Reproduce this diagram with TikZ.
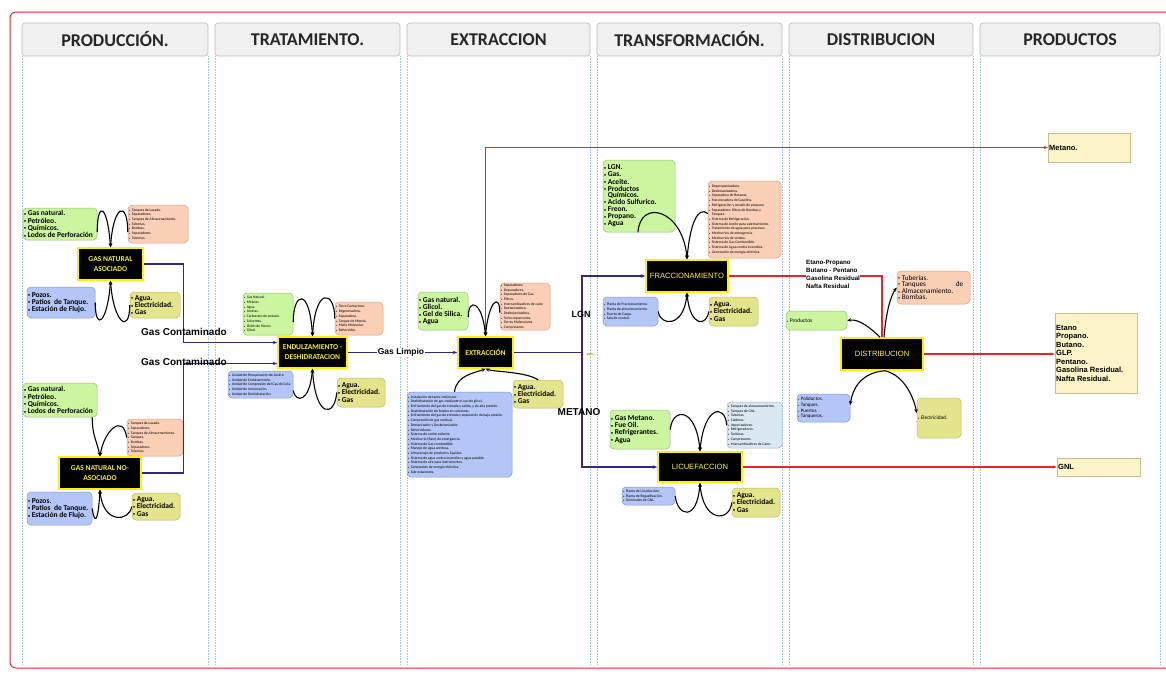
\documentclass[tikz,border=0pt]{standalone}
\usepackage{fontspec}
\setmainfont{Carlito}
\newfontfamily\arial{Liberation Sans}
\usetikzlibrary{arrows.meta}
\definecolor{gfill}{RGB}{204,245,160}
\definecolor{gdraw}{RGB}{150,190,120}
\definecolor{rfill}{RGB}{250,207,182}
\definecolor{rdraw}{RGB}{215,160,140}
\definecolor{bfill}{RGB}{180,198,248}
\definecolor{bdraw}{RGB}{130,150,210}
\definecolor{yfill}{RGB}{228,228,140}
\definecolor{ydraw}{RGB}{185,185,100}
\definecolor{lbfill}{RGB}{218,232,242}
\definecolor{lbdraw}{RGB}{160,180,200}
\definecolor{pfill}{RGB}{253,245,200}
\definecolor{pdraw}{RGB}{200,190,150}
\definecolor{purp}{RGB}{55,40,120}
\definecolor{redl}{RGB}{225,40,40}
\definecolor{kyel}{RGB}{245,235,40}
\definecolor{hdrf}{RGB}{240,240,240}
\definecolor{hdrd}{RGB}{185,185,185}
\definecolor{coldot}{RGB}{160,200,210}
% box: style, name, x, y, w, h, text  (text set in its own node, left aligned, never wrapped)
\newcommand\bx[7]{%
  \node[#1,minimum width=#5pt,minimum height=#6pt] (#2) at ({#3+#5/2},{#4+#6/2}) {};%
  \node[#1,draw=none,fill=none,anchor=west,align=left,inner xsep=1.2pt] (#2t) at (#2.west) {#7};}
\newcommand\bu{\makebox[3.6pt][l]{\fontsize{4}{4}\selectfont\raisebox{0.4pt}{•}}}
\newcommand\ti{\makebox[2.6pt][l]{\fontsize{2.6}{2.6}\selectfont •}}
\begin{document}
\begin{tikzpicture}[x=1pt,y=-1pt,
 every node/.style={inner xsep=1pt,inner ysep=1pt},
 hdr/.style={draw=hdrd,fill=hdrf,rounded corners=3pt,line width=0.6pt,font=\fontsize{18}{18}\selectfont\bfseries,text=black!85},
 gbox/.style={draw=gdraw,fill=gfill,rounded corners=4pt,line width=0.5pt},
 rbox/.style={draw=rdraw,fill=rfill,rounded corners=4pt,line width=0.5pt},
 bbox/.style={draw=bdraw,fill=bfill,rounded corners=4pt,line width=0.5pt},
 ybox/.style={draw=ydraw,fill=yfill,rounded corners=4pt,line width=0.5pt},
 lbbox/.style={draw=lbdraw,fill=lbfill,rounded corners=4pt,line width=0.5pt},
 pbox/.style={draw=pdraw,fill=pfill,line width=0.5pt,font=\arial\bfseries\fontsize{7.5}{8.5}\selectfont},
 kbox/.style={draw=yellow,fill=black,line width=1.5pt,align=center,text=kyel},
 kfont/.style={font=\fontsize{7.5}{10}\selectfont\bfseries},
 afont/.style={font=\arial\fontsize{7.6}{9}\selectfont,text=yellow!80!white},
 fb/.style={font=\fontsize{7.5}{7.2}\selectfont\bfseries},
 ft/.style={font=\fontsize{3.7}{4.7}\selectfont},
 arcl/.style={draw=black,line width=1.1pt,-{Stealth[length=4pt,width=3.5pt]}},
 purl/.style={draw=purp,line width=1.2pt,-{Stealth[length=4.5pt,width=3.5pt]}},
 redln/.style={draw=redl,line width=1.1pt},
 lab/.style={font=\arial\bfseries\fontsize{10}{10}\selectfont,inner sep=0pt},
]
\useasboundingbox (0,0) rectangle (1166,675);
\fill[white] (0,0) rectangle (1166,675);
\draw[redl,line width=1pt,rounded corners=6pt] (10,12) rectangle (1185,668);
% columns
\foreach \a in {22,208,215,400,407,590,597,782,789,973,980,1160}
  \draw[coldot,densely dotted,line width=0.6pt] (\a,56) -- (\a,665);
% headers
\node[hdr,minimum width=186pt,minimum height=33pt] (h1) at (115,39.5) {PRODUCCIÓN.};
\node[hdr,minimum width=185pt,minimum height=33pt] (h2) at (307.5,39.5) {TRATAMIENTO.};
\node[hdr,minimum width=183pt,minimum height=33pt] (h3) at (498.5,39.5) {EXTRACCION};
\node[hdr,minimum width=185pt,minimum height=33pt] (h4) at (689.5,39.5) {TRANSFORMACIÓN.};
\node[hdr,minimum width=184pt,minimum height=33pt] (h5) at (881,39.5) {DISTRIBUCION};
\node[hdr,minimum width=180pt,minimum height=33pt] (h6) at (1070,39.5) {PRODUCTOS};

% ---------- PRODUCCION ----------
\bx{gbox,fb}{G1}{23}{208}{74}{32}{\bu Gas natural.\\\bu Petróleo.\\\bu Químicos.\\\bu Lodos de Perforación}
\bx{rbox,ft}{R1}{128}{205}{60}{38}{\ti Tanques de Lavado.\\\ti Separadores.\\\ti Tanques de Almacenamiento.\\\ti Tuberías.\\\ti Bombas.\\\ti Separadores.\\\ti Tuberías.}
\node[kbox,kfont,minimum width=65pt,minimum height=32pt] (K1) at (110.5,264) {GAS NATURAL\\ASOCIADO};
\bx{bbox,fb}{B1}{27}{287}{68}{31}{\bu Pozos.\\\bu Patios\ \ de Tanque.\\\bu Estación de Flujo.}
\bx{ybox,fb}{Y1}{130}{292}{50}{26}{\bu Agua.\\\bu Electricidad.\\\bu Gas}

\bx{gbox,fb}{G1b}{23}{383}{74}{34}{\bu Gas natural.\\\bu Petróleo.\\\bu Químicos.\\\bu Lodos de Perforación}
\bx{rbox,ft}{R1b}{127}{419}{56}{37}{\ti Tanques de Lavado.\\\ti Separadores.\\\ti Tanques de Almacenamiento.\\\ti Tanques.\\\ti Bombas.\\\ti Separadores.\\\ti Tuberías.}
\node[kbox,kfont,minimum width=82pt,minimum height=32pt] (K1b) at (100,473) {GAS NATURAL NO-\\ASOCIADO};
\bx{bbox,fb}{B1b}{27}{492}{65}{33}{\bu Pozos.\\\bu Patios\ \ de Tanque.\\\bu Estación de Flujo.}
\bx{ybox,fb}{Y1b}{132}{493}{48}{27}{\bu Agua.\\\bu Electricidad.\\\bu Gas}

% ---------- TRATAMIENTO ----------
\bx{gbox,ft}{G2}{243}{293}{50}{42}{\ti Gas Natural.\\\ti Metano.\\\ti Agua.\\\ti Aminas.\\\ti Carbonato de potasio.\\\ti Solventes.\\\ti Óxido de Hierro.\\\ti Glicol.}
\bx{rbox,ft}{R2}{335}{302}{48}{33}{\ti Torre Contactora.\\\ti Regeneradora.\\\ti Separadora.\\\ti Tanque de Mezcla.\\\ti Malla Molecular.\\\ti Rehervidor.}
\node[kbox,kfont,minimum width=69pt,minimum height=31pt] (K2) at (312.5,352.5) {ENDULZAMIENTO -\\DESHIDRATACION};
\bx{bbox,ft}{B2}{228}{371}{65}{27}{\ti Unidad de Recuperación de Azufre.\\\ti Unidad de Endulzamiento.\\\ti Unidad de Compresión del Gas de Cola.\\\ti Unidad de Incineración.\\\ti Unidad de Deshidratación.}
\bx{ybox,fb}{Y2}{337}{378}{48}{29}{\bu Agua.\\\bu Electricidad.\\\bu Gas}

% ---------- EXTRACCION ----------
\bx{gbox,fb}{G3}{418}{292}{50}{38}{\bu Gas natural.\\\bu Glicol.\\\bu Gel de Silica.\\\bu Agua}
\bx{rbox,ft}{R3}{500}{283}{50}{47}{\ti Separadores.\\\ti Depuradores.\\\ti Separadores de Gas.\\\ti Filtros.\\\ti Intercambiadores de calor.\\\ti Deetanizadora.\\\ti Desbutanizadora.\\\ti Turbo expansores.\\\ti Torres Moleculares.\\\ti Compresores.}
\node[kbox,kfont,minimum width=55pt,minimum height=31pt] (K3) at (485.5,352.5) {EXTRACCIÓN};
\bx{ybox,fb}{Y3}{513}{380}{50}{28}{\bu Agua.\\\bu Electricidad.\\\bu Gas}
\bx{bbox,ft}{B3}{407}{392}{105}{85}{\ti Instalación de tamiz molecular.\\\ti Deshidratación de gas mediante el uso de glicol.\\\ti Enfriamiento del gas de entrada y salida, y de alta presión.\\\ti Deshidratación de fondos en columnas.\\\ti Enfriamiento del gas de entrada y separación de baja presión.\\\ti Compresión de gas residual.\\\ti Deetanizador y Desbutanizador.\\\ti Rehervidores.\\\ti Sistema de aceite caliente.\\\ti Mechurrio (flare) de emergencia.\\\ti Sistema de Gas combustible.\\\ti Manejo de agua aceitosa.\\\ti Almacenaje de productos líquidos.\\\ti Sistema de agua contra incendios y agua potable.\\\ti Sistema de aire para instrumentos.\\\ti Generación de energía eléctrica.\\\ti Sub-estaciones.}

% ---------- TRANSFORMACION ----------
\bx{gbox,fb}{G4}{603}{160}{72}{72}{\bu LGN.\\\bu Gas.\\\bu Aceite.\\\bu Productos\\[-1.5pt]\hspace*{3.6pt}Químicos.\\\bu Acido Sulfurico.\\\bu Freon.\\\bu Propano.\\\bu Agua}
\bx{rbox,ft}{R4}{708}{181}{73}{77}{\ti Despropanizadora.\\\ti Desbutanizadora.\\\ti Separadora de Butanos.\\\ti Fraccionadora de Gasolina.\\\ti Refrigeración y secado de propano.\\\ti Separadores, filtros de Bombas y\\\hspace*{2.6pt}Tanques.\\\ti Sistema de Refrigeración.\\\ti Sistema de Aceite para calentamiento.\\\ti Tratamiento de agua para procesos.\\\ti Mechurrios de emergencia.\\\ti Mechurrios de venteo.\\\ti Sistema de Gas Combustible.\\\ti Sistema de Agua contra incendios.\\\ti Generación de energía eléctrica.}
\node[kbox,afont,minimum width=82pt,minimum height=32pt] (K4) at (687,276) {FRACCIONAMIENTO};
\bx{bbox,ft}{B4}{603}{297}{55}{29}{\ti Planta de Fraccionamiento.\\\ti Planta de almacenamiento.\\\ti Puerto de Carga.\\\ti Sala de control.}
\bx{ybox,fb}{Y4}{709}{297}{49}{29}{\bu Agua.\\\bu Electricidad.\\\bu Gas}
\bx{gbox,fb}{G5}{610}{410}{60}{39}{\bu Gas Metano.\\\bu Fue Oil.\\\bu Refrigerantes.\\\bu Agua}
\bx{lbbox,ft}{L5}{727}{402}{55}{46}{\ti Tanques de almacenamiento.\\\ti Tanques de GNL.\\\ti Tuberías.\\\ti Calderas.\\\ti Vaporizadores.\\\ti Refrigeradores.\\\ti Turbinas.\\\ti Compresores.\\\ti Intercambiadores de Calor.}
\node[kbox,afont,minimum width=84pt,minimum height=30pt] (K5) at (700,467) {LICUEFACCION};
\bx{bbox,ft}{B5}{622}{487}{53}{18}{\ti Planta de Licuefacción.\\\ti Planta de Regasificación.\\\ti Terminales de GNL.}
\bx{ybox,fb}{Y5}{732}{488}{48}{29}{\bu Agua.\\\bu Electricidad.\\\bu Gas}

% ---------- DISTRIBUCION ----------
\bx{rbox,font=\fontsize{7.2}{6}\selectfont}{R6}{897}{271}{73}{33}{\bu Tuberías.\\\bu Tanques\hspace{30pt}de\\\bu Almacenamiento.\\\bu Bombas.}
\bx{gbox,font=\fontsize{5.5}{6}\selectfont}{G6}{786}{311}{61}{19}{\ti Productos}
\node[kbox,afont,minimum width=82pt,minimum height=32pt] (K6) at (882,354) {DISTRIBUCION};
\bx{bbox,font=\fontsize{5}{5.6}\selectfont}{B6}{797}{394}{53}{28}{\ti Poliductos.\\\ti Tanques.\\\ti Puertos.\\\ti Tanqueros.}
\bx{ybox,font=\fontsize{5.3}{6}\selectfont}{Y6}{917}{398}{44}{40}{\ti Electricidad.}

% ---------- PRODUCTOS ----------
\bx{pbox}{P1}{1048}{133}{82}{29}{Metano.}
\bx{pbox}{P2}{1055}{313}{82}{80}{Etano\\Propano.\\Butano.\\GLP.\\Pentano.\\Gasolina Residual.\\Nafta Residual.}
\bx{pbox}{P3}{1057}{458}{83}{18}{GNL}

% ---------- connectors ----------
\draw[purl] (K1.east) -- ++(40,0) |- ([yshift=10pt]K2.west);
\draw[purl] (K1b.east) -- ++(42,0) |- ([yshift=-11pt]K2.west);
\node[lab] (gc1) at (184,332) {Gas Contaminado};
\node[lab] (gc2) at (184,362) {Gas Contaminado};
\draw[purl] (K2.east) -- (K3.west);
\node[lab,font=\arial\bfseries\fontsize{8.5}{8.5}\selectfont,fill=white,inner xsep=1pt] (gl) at (401,352.5) {Gas Limpio};
\coordinate (jn) at (582,352.5);
\draw[purl,-] (K3.east) -- (jn);
\draw[purl] (jn) |- (K4.west);
\draw[purl] (jn) |- (K5.west);
\node[lab,font=\arial\bfseries\fontsize{9}{9}\selectfont] (lgn) at (581,314) {LGN};
\node[lab,font=\arial\bfseries\fontsize{10}{10}\selectfont] (met) at (579,412) {METANO};
\node[font=\fontsize{3.2}{3.2}\selectfont,fill=yellow!25,inner sep=0.6pt,text=black!70] (sm) at (591,354.5) {2SM...};

\draw[redln,-{Stealth[length=4pt,width=3pt]}] (K3.north) |- (P1.west);
\draw[redln] (K4.east) -| (K6.north);
\draw[redln,-{Stealth[length=4pt,width=3pt]}] (K6.east) -- (K6.east -| P2.west);
\draw[redln,-{Stealth[length=4pt,width=3pt]}] (K5.east) -- (P3.west);
\node[anchor=north west,font=\arial\bfseries\fontsize{6.2}{8}\selectfont,align=left,inner sep=0.5pt,fill=white] (lbl) at (805.5,259.5) {Etano-Propano\\Butano - Pentano\\Gasolina Residual\\Nafta Residual};

% black arcs
\draw[arcl] ([yshift=-8pt]G1.east) .. controls +(0,-32) and +(-3,-43) .. (K1.north);
\draw[arcl] ([yshift=-8pt]R1.west) .. controls +(0,-32) and +(3,-43) .. (K1.north);
\draw[arcl] (B1.east) .. controls +(0,30) and +(-3,42) .. (K1.south);
\draw[arcl] (Y1.west) .. controls +(0,30) and +(3,42) .. (K1.south);

\draw[arcl] ([xshift=-5pt]G1b.south east) .. controls +(0,18) and +(-4,-18) .. (K1b.north);
\draw[arcl] (R1b.west) .. controls +(-4,-25) and +(4,-25) .. (K1b.north);
\draw[arcl] (B1b.east) .. controls +(2,15) and +(-2,35) .. (K1b.south);
\draw[arcl] (Y1b.west) .. controls +(-2,15) and +(3,35) .. (K1b.south);

\draw[arcl] ([yshift=-8pt]G2.east) .. controls +(0,-30) and +(-3,-50) .. (K2.north);
\draw[arcl] (R2.west) .. controls +(0,-28) and +(3,-50) .. (K2.north);
\draw[arcl] ([yshift=-6pt]B2.east) .. controls +(2,12) and +(-3,35) .. (K2.south);
\draw[arcl] (Y2.west) .. controls +(-2,25) and +(3,50) .. (K2.south);

\draw[arcl] ([yshift=-6pt]G3.east) .. controls +(0,-20) and +(-3,-35) .. (K3.north);
\draw[arcl] ([yshift=-6pt]R3.west) .. controls +(0,-20) and +(3,-35) .. (K3.north);
\draw[arcl] ([xshift=-5pt]B3.north) .. controls +(2,-17) and +(-10,4) .. (K3.south);
\draw[arcl] (Y3.north) .. controls +(-12,-8) and +(8,3) .. (K3.south);

\draw[arcl] ([xshift=-1pt]G4.south) .. controls +(2,-34) and +(-4,-50) .. (K4.north);
\draw[arcl] ([yshift=6pt]R4.west) .. controls +(-10,-8) and +(3,-35) .. (K4.north);
\draw[arcl] (B4.east) .. controls +(2,15) and +(-3,35) .. (K4.south);
\draw[arcl] (Y4.west) .. controls +(-2,15) and +(3,35) .. (K4.south);

\draw[arcl] (G5.east) .. controls +(2,-22) and +(-4,-45) .. (K5.north);
\draw[arcl] (L5.west) .. controls +(-2,-22) and +(4,-45) .. (K5.north);
\draw[arcl] (B5.east) .. controls +(2,20) and +(-3,40) .. (K5.south);
\draw[arcl] (Y5.west) .. controls +(-2,20) and +(3,40) .. (K5.south);

\draw[arcl] ([xshift=-2pt]K6.north) .. controls +(-8,-8) and +(12,-2) .. (G6.east);
\draw[arcl] ([xshift=2pt]K6.north) .. controls +(2,-25) and +(-6,8) .. (R6.west);
\draw[arcl] ([xshift=3pt]K6.south) .. controls +(-25,2) and +(2,-15) .. ([yshift=3pt]B6.east);
\draw[arcl] ([xshift=3pt]K6.south) .. controls +(20,5) and +(-3,-15) .. ([yshift=5pt]Y6.west);
\end{tikzpicture}
\end{document}
